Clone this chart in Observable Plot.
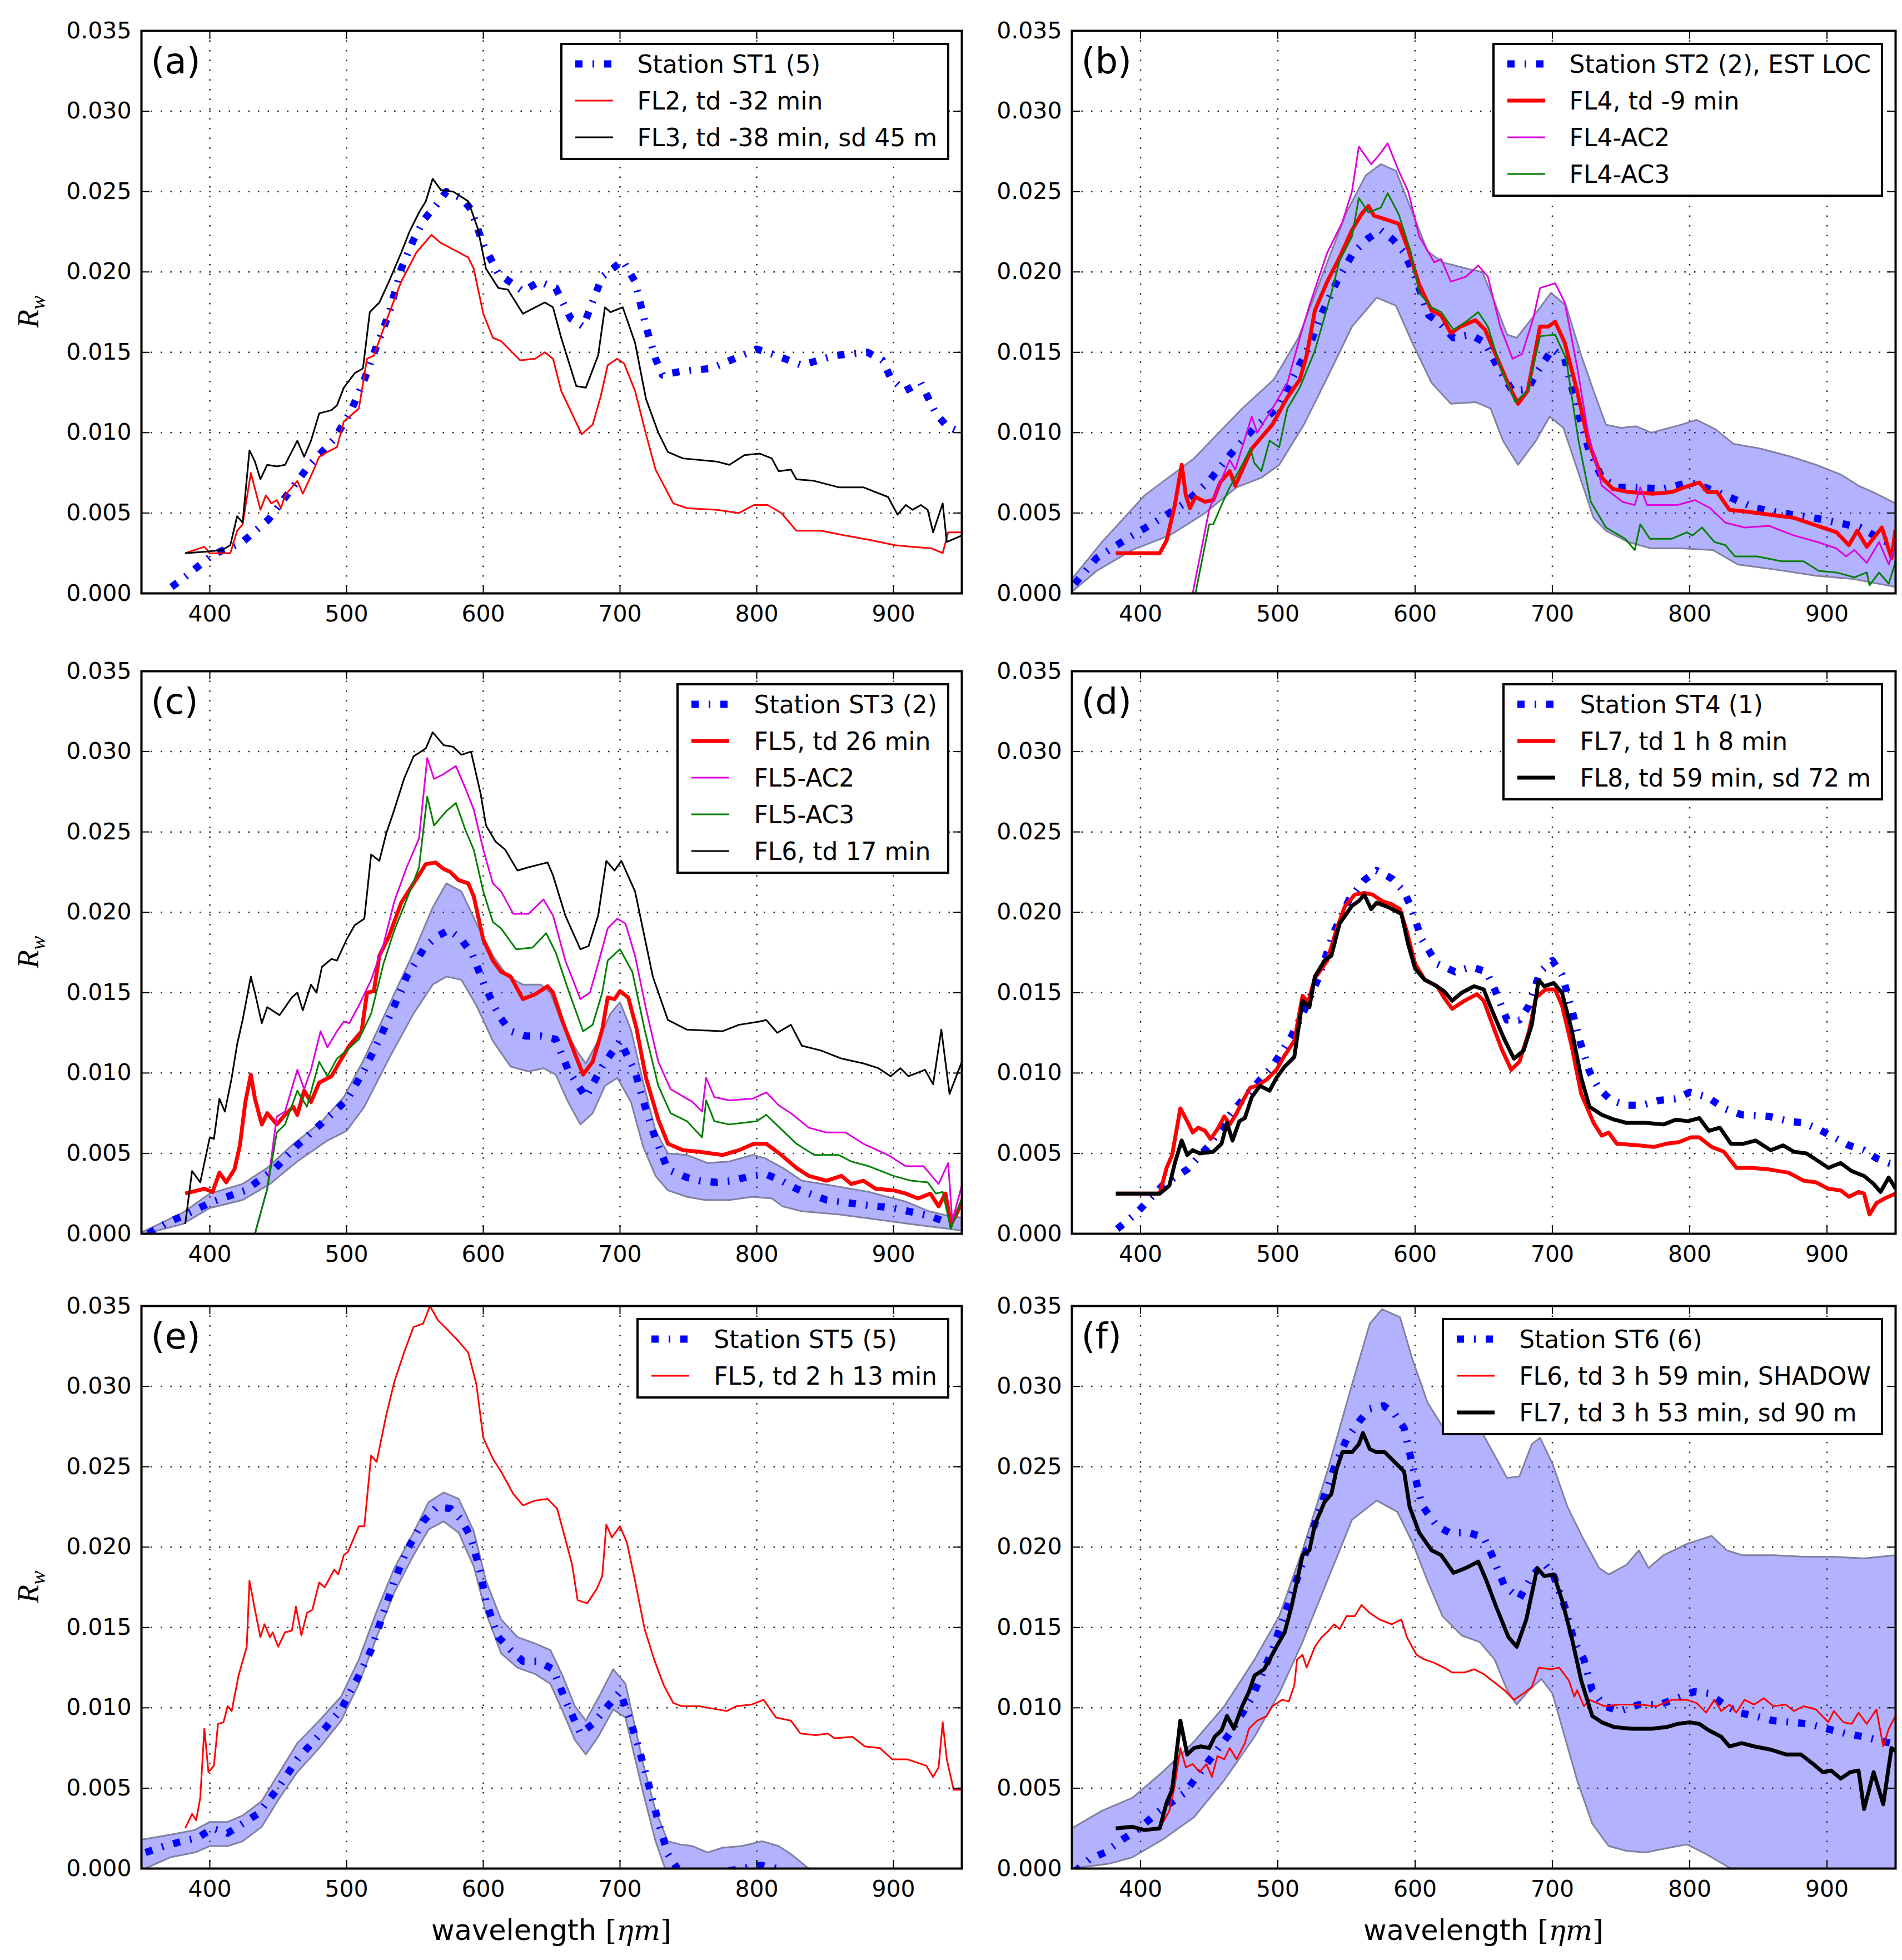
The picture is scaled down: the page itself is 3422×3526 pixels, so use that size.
<!DOCTYPE html>
<html>
<head>
<meta charset="utf-8">
<script src="https://cdn.jsdelivr.net/npm/d3@7"></script>
<script src="https://cdn.jsdelivr.net/npm/@observablehq/plot@0.6"></script>
<style>
  body { margin: 0; background: #fff; }
  #page { position: relative; width: 3422px; height: 3526px; font-family: "DejaVu Sans"; overflow: hidden; }
  .chart { position: absolute; }
  .legend { position: absolute; background: #fff; border: 4px solid #000; padding: 11px 18px 14px 23px; font-size: 44px; }
  .legend .row { display: flex; align-items: center; height: 46px; margin-bottom: 20px; white-space: nowrap; }
  .legend .row:last-child { margin-bottom: 0; }
  .legend .row svg { margin-right: 44px; flex: none; }
  .xlab { position: absolute; transform: translate(-50%, -50%); font-size: 51px; white-space: nowrap; }
  .xlab .m { font-family: "DejaVu Serif"; }
  .ylab { position: absolute; transform: translate(-50%, -50%) rotate(-90deg); font-family: "Liberation Serif"; font-style: italic; font-size: 54px; }
</style>
</head>
<body>
<div id="page"></div>
<script>
// wavelength [nm], Rw in units of 1e-3
const xTicks = [400, 500, 600, 700, 800, 900];
const yTicks = [0, 0.005, 0.01, 0.015, 0.02, 0.025, 0.03, 0.035];

// (a)
const a_st1 = [[372,0.4],[383,1.1],[402,2.4],[424,3.2],[443,4.6],[473,8.0],[491,9.6],[503,11.3],[513,13.3],[522,15.4],[531,17.4],[540,20.2],[549,22.0],[557,23.3],[566,24.2],[573,25.0],[584,24.6],[591,23.9],[600,21.7],[611,19.9],[629,18.8],[641,19.4],[653,19.0],[664,17.1],[673,16.6],[687,19.7],[702,20.7],[711,19.4],[719,16.6],[726,14.6],[731,13.6],[744,13.8],[767,14.0],[789,14.8],[800,15.2],[811,14.9],[833,14.2],[857,14.8],[881,15.0],[892,14.5],[898,13.4],[908,12.6],[920,13.1],[931,11.2],[939,10.4],[950,10.0]];
const a_fl2 = [[382,2.5],[396,2.9],[400,2.5],[415,2.5],[420,3.9],[424,4.3],[430,7.5],[437,5.2],[441,6.1],[445,5.6],[449,5.8],[452,5.3],[455,6.1],[464,7.0],[468,6.2],[475,7.5],[480,8.5],[486,8.8],[493,9.1],[498,10.7],[509,11.5],[515,14.6],[520,14.8],[531,17.4],[540,19.4],[551,21.2],[562,22.3],[569,21.8],[578,21.4],[589,20.9],[593,20.2],[600,17.4],[607,15.9],[613,15.7],[627,14.5],[638,14.6],[645,15.0],[651,14.6],[657,12.6],[672,9.9],[680,10.5],[686,12.3],[691,14.2],[698,14.6],[703,14.3],[711,12.6],[719,9.9],[726,7.7],[739,5.6],[749,5.3],[771,5.2],[787,5.0],[798,5.5],[808,5.5],[818,5.0],[829,3.9],[847,3.9],[865,3.6],[884,3.3],[901,3.0],[914,2.9],[928,2.8],[936,2.5],[940,3.8],[950,3.8]];
const a_fl3 = [[382,2.5],[398,2.6],[409,2.7],[415,3.0],[420,4.8],[424,4.4],[429,8.9],[433,8.2],[437,7.1],[442,8.0],[449,7.9],[455,8.0],[464,9.5],[469,8.5],[474,9.5],[480,11.2],[489,11.4],[493,11.7],[498,12.8],[506,13.7],[512,14.0],[517,17.5],[524,18.1],[531,19.4],[540,21.2],[546,22.5],[553,23.7],[558,24.4],[563,25.8],[569,25.1],[578,25.0],[589,24.4],[596,22.7],[602,20.2],[611,19.0],[618,18.9],[629,17.4],[638,17.8],[645,18.1],[651,17.8],[657,15.9],[668,12.9],[675,12.8],[684,14.8],[689,17.8],[693,17.5],[702,17.8],[711,15.6],[719,12.1],[728,10.0],[735,8.8],[746,8.4],[771,8.2],[780,8.0],[791,8.6],[802,8.7],[811,8.4],[816,7.6],[825,7.7],[829,7.1],[842,7.0],[860,6.6],[878,6.6],[887,6.3],[896,6.0],[903,4.9],[909,5.5],[914,5.2],[920,5.5],[925,5.2],[929,3.8],[936,5.6],[939,3.2],[950,3.6]];

// (b)
const b_upper = [[350,0.9],[372,3.2],[403,6.1],[439,8.4],[474,11.5],[497,13.3],[515,15.9],[532,19.7],[550,23.7],[564,26.0],[575,26.7],[586,26.3],[598,23.7],[609,21.3],[620,20.6],[638,20.2],[649,20.0],[658,18.1],[667,16.1],[674,15.9],[685,17.1],[699,18.7],[710,17.9],[721,14.8],[730,12.6],[739,10.5],[750,10.3],[761,10.4],[772,10.0],[794,10.5],[805,10.8],[819,10.2],[832,9.3],[852,9.0],[874,8.5],[892,8.0],[910,7.4],[923,6.7],[936,6.2],[950,5.6]];
const b_lower = [[350,0.1],[368,1.4],[394,2.7],[421,3.6],[447,5.0],[470,6.6],[488,7.2],[501,8.0],[519,10.5],[537,13.6],[554,16.6],[572,18.4],[586,17.9],[599,15.4],[612,13.1],[626,11.8],[644,11.9],[655,11.5],[664,9.5],[675,8.0],[688,9.5],[698,11.0],[708,10.3],[719,7.5],[730,4.7],[739,3.9],[755,3.2],[772,2.8],[794,2.8],[817,2.7],[835,1.8],[861,1.5],[892,1.1],[919,0.9],[950,0.4]];
const b_st2 = [[352,0.6],[368,2.2],[390,3.4],[410,4.4],[432,5.6],[450,7.0],[465,8.6],[483,10.3],[499,11.5],[512,13.6],[523,15.4],[532,17.4],[543,19.4],[555,21.2],[566,22.1],[575,22.6],[584,22.0],[592,21.2],[600,19.7],[610,17.3],[617,16.9],[628,15.9],[640,16.1],[651,15.6],[660,14.1],[671,12.6],[682,12.7],[689,13.8],[700,15.2],[709,14.6],[718,11.5],[726,9.1],[736,7.2],[747,6.6],[760,6.6],[780,6.5],[800,6.9],[811,6.6],[826,6.1],[848,5.3],[875,4.9],[897,4.6],[924,4.1],[941,3.3],[950,3.0]];
const b_fl4 = [[382,2.5],[414,2.5],[419,3.3],[425,5.5],[430,8.0],[433,6.1],[436,5.3],[440,6.0],[447,5.7],[453,5.8],[458,6.9],[465,7.6],[469,6.7],[481,9.0],[487,9.6],[496,10.5],[507,12.2],[516,13.3],[521,14.8],[527,17.6],[536,19.4],[545,20.9],[554,22.6],[561,23.6],[566,24.1],[570,23.5],[581,23.2],[588,23.0],[595,21.4],[603,19.2],[612,17.6],[619,17.3],[626,16.2],[633,16.6],[644,17.0],[651,16.4],[660,14.6],[669,12.8],[675,11.8],[682,12.6],[691,16.6],[697,16.6],[702,16.9],[709,15.6],[718,12.6],[726,9.5],[736,7.2],[744,6.5],[756,6.3],[773,6.2],[787,6.3],[796,6.6],[807,6.9],[813,6.3],[820,6.3],[829,5.2],[840,5.1],[858,4.9],[876,4.7],[893,4.2],[907,3.8],[916,3.0],[922,3.9],[929,2.9],[940,4.1],[947,2.2],[950,4.0]];
const b_ac2 = [[438,0],[450,5.2],[456,6.5],[465,8.3],[469,7.7],[481,11.0],[485,10.0],[496,11.5],[507,13.1],[516,15.9],[523,17.9],[536,21.2],[547,23.1],[554,25.0],[559,27.8],[568,26.7],[574,27.3],[580,28.0],[588,26.3],[595,25.0],[603,22.2],[614,20.6],[619,20.8],[626,19.4],[637,19.7],[646,20.4],[653,19.7],[662,16.6],[671,14.6],[678,14.9],[686,17.1],[691,19.0],[702,19.3],[709,18.1],[718,14.1],[726,10.0],[736,6.7],[751,5.7],[760,5.5],[764,6.6],[769,5.5],[791,5.5],[804,5.8],[815,5.3],[826,4.4],[840,4.1],[858,4.2],[876,3.6],[893,3.2],[907,2.8],[914,2.3],[920,2.7],[929,1.9],[938,3.2],[945,1.8],[950,3.0]];
const b_ac3 = [[440,0],[450,4.3],[453,4.3],[459,5.5],[465,6.6],[474,8.0],[480,9.0],[483,8.1],[488,7.6],[494,9.5],[501,9.1],[507,11.5],[516,12.8],[527,15.1],[539,18.7],[545,20.7],[554,22.2],[559,24.6],[566,23.7],[575,24.0],[580,24.9],[588,23.6],[597,21.2],[603,18.7],[612,17.8],[619,17.5],[628,16.4],[637,16.9],[646,17.5],[653,16.6],[662,14.1],[673,11.9],[682,12.6],[691,16.0],[702,16.1],[710,14.6],[719,9.5],[728,5.7],[739,4.1],[753,3.4],[760,2.7],[764,4.3],[771,3.4],[787,3.4],[798,3.8],[802,3.6],[809,4.1],[818,3.2],[826,3.0],[833,2.3],[849,2.3],[867,2.0],[883,2.0],[894,1.4],[907,1.3],[920,1.0],[929,1.3],[931,0.5],[938,1.3],[945,0.6],[950,2.0]];

// (c)
const c_upper = [[350,0.1],[353,0.2],[380,1.3],[400,2.5],[424,3.1],[442,4.1],[460,5.5],[482,7.0],[498,8.5],[513,10.9],[531,14.2],[549,17.5],[563,20.3],[573,21.8],[584,21.3],[595,19.3],[607,17.3],[618,16.0],[629,15.5],[642,15.5],[649,15.0],[658,13.0],[669,11.3],[675,10.6],[684,12.0],[693,13.7],[700,14.4],[708,12.7],[717,9.4],[726,6.4],[735,5.0],[749,4.9],[764,4.4],[780,4.5],[797,4.9],[806,4.7],[819,4.1],[833,3.3],[855,3.0],[882,2.6],[909,2.0],[926,1.4],[941,1.1],[950,1.0]];
const c_lower = [[350,0],[353,0],[380,0.6],[400,1.6],[424,2.1],[444,3.1],[464,4.5],[486,5.8],[500,6.4],[513,7.9],[531,10.9],[549,13.7],[563,15.5],[573,16.0],[584,15.8],[595,14.2],[607,12.0],[620,10.4],[633,10.1],[644,10.3],[653,9.9],[662,8.2],[671,6.8],[680,7.5],[689,9.2],[698,9.7],[708,8.2],[717,5.4],[726,3.6],[735,2.7],[749,2.3],[762,2.1],[780,2.1],[797,2.3],[811,2.2],[819,1.7],[833,1.4],[860,1.2],[887,0.9],[913,0.6],[941,0.3],[950,0.2]];
const c_st3 = [[355,0],[369,0.7],[380,1.1],[402,2.0],[426,2.7],[447,4.0],[464,5.5],[482,6.9],[500,8.3],[513,10.2],[524,12.1],[534,14.0],[544,16.0],[557,17.8],[566,18.5],[575,18.9],[584,18.3],[592,17.4],[601,15.4],[612,13.5],[620,12.6],[631,12.3],[642,12.3],[653,12.1],[662,10.2],[675,8.5],[687,10.4],[700,12.0],[711,10.1],[718,8.0],[726,5.9],[735,4.0],[749,3.5],[758,3.3],[771,3.2],[782,3.3],[796,3.6],[807,3.7],[818,3.3],[829,2.8],[851,2.1],[878,1.8],[900,1.6],[927,1.1],[942,0.6],[950,0.5]];
const c_fl5 = [[382,2.5],[396,2.8],[402,2.6],[407,3.8],[412,3.2],[418,4.0],[422,5.5],[426,8.2],[430,9.9],[433,8.4],[438,6.8],[442,7.5],[449,6.8],[455,7.4],[461,7.9],[464,7.4],[469,8.9],[474,8.2],[480,9.4],[489,9.8],[495,10.7],[502,11.7],[511,12.6],[515,15.0],[520,15.1],[524,17.3],[531,18.5],[540,20.6],[549,21.8],[558,23.0],[565,23.1],[571,22.7],[576,22.5],[582,22.0],[589,21.8],[593,21.0],[600,18.3],[607,17.0],[613,16.3],[620,16.0],[629,14.6],[638,14.9],[647,15.4],[651,15.0],[658,13.2],[667,11.2],[673,9.9],[680,10.7],[687,12.7],[691,14.7],[696,14.6],[700,15.1],[706,14.7],[712,12.8],[719,9.7],[728,7.1],[735,5.6],[746,5.2],[758,5.1],[775,4.9],[787,5.2],[798,5.6],[807,5.6],[818,4.9],[829,4.1],[838,3.6],[851,3.3],[862,3.6],[869,3.1],[878,3.3],[887,2.8],[900,2.7],[909,2.5],[918,2.2],[927,2.5],[933,1.7],[938,2.5],[942,0.6],[946,1.2],[950,2.0]];
const c_ac2 = [[382,0],[433,0],[442,2.8],[449,7.3],[455,7.6],[464,10.2],[469,9.0],[474,10.2],[481,12.6],[486,11.6],[493,12.6],[498,13.2],[502,13.1],[509,14.2],[518,15.8],[527,18.0],[535,20.7],[544,22.8],[553,24.6],[559,29.6],[564,28.3],[571,28.6],[580,29.1],[587,27.7],[593,26.4],[600,23.9],[607,21.8],[613,21.3],[622,19.9],[633,19.9],[644,20.8],[651,19.8],[660,17.0],[671,14.6],[678,15.0],[684,16.8],[691,19.0],[698,19.6],[704,19.3],[711,17.3],[719,14.0],[728,10.7],[737,9.0],[753,8.2],[760,7.6],[763,9.7],[769,8.5],[780,8.3],[797,8.4],[807,8.8],[816,8.0],[825,7.5],[838,6.6],[851,6.3],[865,6.3],[878,5.6],[896,4.9],[909,4.2],[922,4.2],[933,3.1],[940,4.4],[943,0.8],[950,3.0]];
const c_ac3 = [[382,0],[433,0],[442,2.8],[449,6.3],[455,6.8],[464,8.9],[471,7.9],[480,10.7],[486,9.8],[493,10.9],[500,11.4],[509,12.1],[518,13.7],[527,16.8],[535,18.9],[544,20.8],[553,22.8],[559,27.2],[564,25.4],[573,26.3],[580,26.8],[587,25.1],[593,23.9],[600,21.3],[607,19.4],[613,19.0],[624,17.7],[636,17.8],[646,18.7],[653,17.5],[662,15.2],[673,12.6],[680,13.0],[687,15.0],[691,17.0],[700,17.7],[709,16.3],[718,12.7],[728,9.2],[737,7.5],[749,7.0],[760,6.0],[763,8.3],[769,7.0],[780,6.8],[800,7.0],[807,7.4],[818,6.5],[829,5.6],[842,4.9],[860,4.9],[869,4.5],[882,4.2],[900,3.6],[913,3.3],[925,3.2],[931,2.5],[936,2.6],[942,0.3],[950,2.2]];
const c_fl6 = [[382,0.6],[387,3.9],[393,3.2],[400,6.0],[403,5.9],[407,8.4],[411,7.6],[416,9.7],[420,11.8],[424,13.3],[430,16.0],[433,15.0],[438,13.1],[442,14.1],[451,13.6],[460,14.7],[464,15.0],[468,13.9],[474,15.5],[478,15.0],[482,16.6],[489,17.1],[493,17.0],[500,18.3],[506,19.2],[513,19.6],[518,23.6],[524,23.2],[529,24.9],[535,26.4],[542,28.3],[549,29.7],[558,30.2],[563,31.2],[571,30.4],[578,30.3],[584,29.8],[591,30.0],[598,27.4],[602,25.4],[609,24.4],[616,23.9],[625,22.6],[633,22.8],[647,23.1],[651,22.3],[660,19.8],[671,17.7],[677,17.9],[684,19.8],[690,23.2],[696,22.6],[701,23.2],[711,21.3],[724,16.0],[735,13.3],[749,12.7],[775,12.6],[787,13.0],[802,13.2],[807,13.3],[815,12.5],[825,13.0],[833,11.7],[847,11.4],[862,10.9],[878,10.6],[889,10.3],[898,9.8],[905,10.3],[911,9.8],[923,10.2],[929,9.3],[935,12.7],[941,8.7],[950,10.7]];

// (d)
const d_st4 = [[383,0.3],[396,1.2],[416,3.0],[434,4.0],[450,5.5],[465,7.4],[481,9.0],[496,10.4],[510,12.3],[521,14.2],[530,16.0],[541,18.8],[552,20.8],[563,22.0],[572,22.6],[583,22.1],[592,21.3],[597,20.3],[605,18.3],[616,16.8],[629,16.3],[641,16.6],[652,16.3],[658,15.2],[667,13.3],[676,13.3],[683,14.2],[691,16.3],[700,17.0],[707,16.1],[714,14.0],[720,12.0],[727,10.1],[734,9.0],[743,8.3],[754,8.0],[765,8.0],[778,8.3],[790,8.4],[800,8.8],[813,8.5],[825,7.8],[838,7.4],[858,7.3],[872,7.0],[883,6.9],[894,6.5],[905,6.0],[916,5.5],[927,5.2],[936,4.7],[945,4.4],[950,4.3]];
const d_fl7 = [[382,2.5],[414,2.5],[419,4.1],[423,4.9],[429,7.8],[434,7.0],[438,6.3],[442,6.6],[447,6.4],[451,5.9],[456,6.5],[461,7.3],[465,6.8],[470,7.5],[474,8.2],[480,9.1],[485,9.2],[492,9.6],[499,10.2],[505,11.1],[512,12.0],[518,14.8],[522,14.4],[527,15.9],[536,17.0],[543,19.0],[549,20.4],[556,21.1],[563,21.2],[569,21.1],[576,20.7],[583,20.5],[589,20.2],[594,18.8],[600,16.8],[607,15.8],[616,15.4],[621,14.7],[627,14.0],[636,14.5],[645,14.9],[650,14.5],[656,13.1],[663,11.5],[670,10.2],[676,10.7],[683,12.6],[688,14.7],[695,15.2],[702,15.2],[707,14.2],[714,11.7],[721,8.7],[730,6.9],[736,6.1],[741,6.3],[747,5.6],[763,5.5],[774,5.4],[783,5.6],[792,5.7],[801,6.0],[807,6.0],[816,5.4],[825,5.1],[834,4.1],[845,4.1],[858,4.0],[872,3.8],[883,3.3],[892,3.2],[901,2.8],[910,2.7],[916,2.3],[923,2.6],[927,2.5],[931,1.2],[936,1.9],[942,2.2],[950,2.5]];
const d_fl8 = [[382,2.5],[414,2.5],[421,3.0],[425,4.4],[430,5.8],[434,4.9],[438,5.2],[443,5.0],[453,5.1],[459,5.6],[463,6.9],[467,5.8],[472,7.0],[476,7.2],[481,8.5],[487,9.2],[494,8.9],[499,9.7],[505,10.4],[512,11.0],[518,14.5],[523,14.1],[527,16.0],[534,17.0],[539,17.3],[545,19.3],[554,20.4],[559,20.7],[563,21.1],[568,20.2],[572,20.6],[581,20.3],[590,19.9],[595,18.0],[600,16.5],[607,15.8],[614,15.5],[621,15.1],[627,14.5],[634,15.0],[643,15.4],[650,15.2],[656,13.9],[665,12.1],[672,10.9],[679,11.4],[685,13.0],[690,15.8],[694,15.4],[701,15.6],[707,15.0],[714,12.7],[721,9.7],[727,7.9],[736,7.4],[745,7.1],[754,6.9],[768,6.9],[781,6.8],[790,7.1],[799,7.0],[807,7.2],[814,6.4],[822,6.6],[830,5.6],[839,5.6],[848,5.8],[859,5.2],[868,5.5],[876,5.1],[885,5.0],[894,4.5],[901,4.1],[910,4.4],[918,3.9],[927,3.6],[934,3.1],[939,2.6],[945,3.5],[950,2.8]];

// (e)
const e_upper = [[350,1.8],[371,2.1],[389,2.4],[400,2.9],[413,2.9],[424,3.3],[438,4.2],[451,6.0],[464,7.8],[480,9.2],[496,10.7],[509,13.0],[522,16.0],[535,18.7],[549,20.9],[560,22.8],[571,23.4],[582,23.0],[593,21.0],[602,17.9],[613,15.5],[625,14.4],[638,14.0],[649,13.6],[658,12.0],[667,10.1],[675,9.2],[684,10.6],[695,12.4],[704,11.5],[710,9.2],[717,6.5],[726,3.6],[735,1.7],[744,1.5],[753,1.4],[764,1.0],[775,1.3],[789,1.4],[804,1.7],[816,1.4],[825,0.9],[838,0],[860,-1.0],[950,-3.0]];
const e_lower = [[350,-0.1],[371,0.7],[389,1.0],[400,1.4],[413,1.4],[424,1.7],[438,2.6],[451,4.4],[464,6.0],[480,7.5],[496,9.2],[509,11.5],[522,14.4],[535,17.2],[549,19.5],[560,21.1],[571,21.6],[582,20.9],[593,18.8],[602,15.9],[613,13.4],[625,12.5],[638,12.1],[649,11.5],[658,9.8],[667,8.0],[675,7.1],[684,8.2],[695,9.9],[704,9.4],[710,7.2],[717,4.7],[726,1.7],[733,0],[760,-1.5],[950,-3.0]];
const e_st5 = [[353,1.0],[367,1.4],[380,1.7],[391,1.9],[402,2.5],[413,2.2],[424,2.8],[435,3.4],[449,4.9],[464,6.8],[480,8.3],[496,9.9],[509,12.0],[518,13.6],[527,15.9],[535,17.9],[544,19.8],[556,21.6],[566,22.5],[576,22.4],[584,21.7],[591,20.6],[598,18.4],[602,16.6],[611,14.4],[620,13.6],[629,12.9],[640,12.9],[651,12.4],[660,10.5],[671,8.4],[680,9.0],[687,9.7],[700,11.0],[708,9.1],[715,7.1],[722,4.9],[728,2.9],[735,0.9],[742,0],[760,-0.4],[790,0],[803,0.2],[815,0],[850,-1.0]];
const e_fl5 = [[382,2.5],[387,3.4],[390,3.0],[393,4.4],[396,8.7],[399,6.0],[403,6.4],[406,9.0],[410,9.1],[413,10.1],[416,9.8],[421,12.0],[427,13.8],[429,17.9],[433,16.1],[437,14.4],[440,15.2],[444,14.4],[446,14.7],[450,13.8],[455,14.7],[460,14.8],[463,16.3],[467,14.5],[471,15.9],[475,16.1],[480,17.8],[484,17.5],[491,18.6],[494,18.3],[498,19.5],[501,19.7],[509,21.3],[513,21.3],[518,25.7],[522,25.3],[529,28.2],[535,30.3],[542,32.1],[549,33.7],[556,33.9],[561,35.0],[567,34.1],[573,33.6],[582,32.8],[589,32.1],[595,30.1],[600,26.8],[607,25.5],[613,24.7],[622,23.3],[629,22.6],[638,22.9],[647,23.0],[654,22.4],[660,20.5],[665,18.9],[669,16.7],[676,16.5],[683,17.4],[687,18.2],[690,21.4],[694,20.6],[700,21.3],[705,20.3],[711,17.9],[718,14.9],[725,13.0],[732,11.4],[739,10.3],[745,10.1],[758,10.1],[778,9.8],[785,10.1],[796,10.2],[805,10.5],[814,9.4],[825,9.2],[832,8.4],[843,8.3],[852,8.4],[857,8.1],[870,8.2],[879,7.6],[890,7.5],[899,6.8],[910,6.8],[924,6.4],[929,5.7],[933,6.3],[936,9.1],[939,6.8],[944,4.9],[950,4.9]];

// (f)
const f_upper = [[350,2.5],[372,3.6],[394,4.4],[416,6.0],[439,7.9],[461,10.1],[483,13.0],[501,15.7],[518,19.8],[536,24.7],[554,30.1],[567,33.9],[576,34.8],[589,34.3],[598,31.7],[609,29.0],[620,27.5],[634,27.4],[647,27.4],[658,25.7],[667,24.3],[676,24.4],[685,26.4],[691,26.8],[700,25.2],[711,22.5],[722,20.6],[734,18.7],[741,18.3],[754,18.9],[763,19.8],[770,18.7],[781,19.5],[798,20.2],[816,20.7],[827,19.8],[838,19.5],[861,19.5],[883,19.4],[905,19.4],[927,19.3],[950,19.5]];
const f_lower = [[350,0],[377,0.3],[394,0.7],[416,1.8],[439,3.2],[461,5.5],[483,8.2],[501,10.9],[518,14.1],[536,17.9],[554,21.7],[572,22.9],[587,22.2],[598,20.3],[609,17.9],[620,15.7],[634,14.5],[647,14.1],[658,13.0],[667,11.1],[674,10.2],[683,11.1],[692,11.8],[700,10.9],[709,8.2],[718,5.5],[729,2.8],[741,1.4],[754,1.1],[768,1.0],[785,1.3],[798,1.5],[812,0.9],[830,0],[870,-1.5],[950,-3.0]];
const f_st6 = [[352,-0.2],[363,0.6],[374,1.0],[385,1.7],[399,2.5],[414,3.6],[432,4.7],[447,6.4],[465,8.4],[481,10.6],[496,13.6],[507,16.3],[518,19.0],[529,22.0],[541,24.9],[550,26.7],[559,27.8],[567,28.6],[577,28.8],[585,28.3],[592,27.4],[598,25.1],[605,22.6],[616,21.3],[625,20.9],[639,20.9],[650,20.6],[656,19.5],[665,17.6],[676,16.8],[685,18.2],[694,19.0],[701,18.2],[709,16.3],[716,14.1],[723,13.0],[729,11.1],[738,10.1],[749,9.8],[763,10.2],[778,10.2],[791,10.6],[803,11.0],[814,10.9],[825,10.2],[836,9.7],[847,9.5],[861,9.2],[874,9.1],[887,9.0],[900,8.7],[914,8.4],[927,8.2],[936,8.0],[947,7.8],[950,7.7]];
const f_fl6 = [[382,2.5],[394,2.6],[403,2.4],[414,2.5],[421,3.6],[425,5.2],[429,7.5],[433,6.3],[438,6.5],[443,6.0],[448,6.5],[452,5.7],[456,7.0],[461,6.8],[465,7.5],[470,6.8],[476,7.8],[479,8.7],[485,9.2],[492,9.5],[496,10.1],[503,10.5],[508,10.4],[512,11.4],[514,13.0],[518,13.3],[521,12.5],[527,13.8],[532,14.4],[537,14.8],[541,15.2],[545,14.9],[550,15.7],[556,15.7],[561,16.4],[567,15.9],[574,15.5],[583,15.2],[590,15.5],[594,14.4],[601,13.3],[607,13.0],[614,12.8],[621,12.5],[627,12.2],[636,12.2],[643,12.4],[650,12.1],[656,11.7],[665,11.1],[672,10.5],[679,10.9],[685,11.3],[690,12.5],[699,12.4],[705,12.5],[712,11.7],[716,10.7],[718,11.1],[723,10.1],[727,10.5],[738,10.1],[749,10.2],[763,10.2],[776,10.1],[787,10.5],[798,10.5],[805,10.3],[812,9.7],[818,10.5],[823,9.8],[829,10.2],[834,9.7],[840,10.5],[847,10.2],[854,10.6],[861,10.1],[870,10.2],[876,9.8],[883,10.1],[892,9.9],[901,9.1],[905,9.8],[912,9.1],[918,9.0],[923,9.7],[929,9.0],[936,9.9],[941,7.6],[945,8.7],[950,9.5]];
const f_fl7 = [[382,2.5],[394,2.6],[403,2.4],[414,2.5],[419,4.1],[423,4.9],[429,9.2],[434,7.1],[439,7.5],[444,7.6],[450,7.5],[454,8.2],[459,8.6],[463,9.5],[468,8.7],[474,10.1],[479,11.0],[483,12.0],[490,12.4],[494,13.0],[499,13.8],[505,14.7],[510,16.3],[514,17.9],[518,19.5],[523,19.8],[527,21.4],[534,22.8],[539,23.3],[543,24.9],[547,25.9],[554,25.9],[559,26.4],[562,27.1],[567,26.1],[572,25.9],[578,25.9],[585,25.3],[592,24.7],[596,22.5],[603,20.9],[612,19.8],[619,19.5],[628,18.4],[637,18.7],[646,19.1],[652,17.9],[659,16.3],[668,14.4],[674,13.8],[681,15.5],[689,18.7],[694,18.2],[701,18.3],[707,16.7],[714,14.4],[721,11.7],[729,9.5],[736,9.1],[745,8.8],[758,8.7],[772,8.7],[783,8.8],[791,9.0],[800,9.1],[807,9.0],[814,8.6],[823,8.2],[829,7.6],[838,7.8],[847,7.6],[859,7.4],[870,7.1],[881,7.1],[890,6.5],[897,6.0],[903,6.1],[910,5.6],[917,6.0],[923,6.1],[927,3.7],[934,6.0],[941,4.0],[947,7.5],[950,7.3]];

const legendA = ["Station ST1 (5)", "FL2, td -32 min", "FL3, td -38 min, sd 45 m"];
const legendB = ["Station ST2 (2), EST LOC", "FL4, td -9 min", "FL4-AC2", "FL4-AC3"];
const legendC = ["Station ST3 (2)", "FL5, td 26 min", "FL5-AC2", "FL5-AC3", "FL6, td 17 min"];
const legendD = ["Station ST4 (1)", "FL7, td 1 h 8 min", "FL8, td 59 min, sd 72 m"];
const legendE = ["Station ST5 (5)", "FL5, td 2 h 13 min"];
const legendF = ["Station ST6 (6)", "FL6, td 3 h 59 min, SHADOW", "FL7, td 3 h 53 min, sd 90 m"];

// line styles
const styles = {
  st: {stroke: "#0000ff", strokeWidth: 13, strokeDasharray: "13,18,3,18"},
  redThin: {stroke: "#ff0000", strokeWidth: 3},
  redThick: {stroke: "#ff0000", strokeWidth: 7},
  blackThin: {stroke: "#000000", strokeWidth: 3},
  blackThick: {stroke: "#000000", strokeWidth: 7},
  magenta: {stroke: "#dd00dd", strokeWidth: 3},
  green: {stroke: "#008000", strokeWidth: 3}
};

const panels = [
  {label: "(a)", col: 0, row: 0, band: null, legend: legendA,
   series: [[a_st1, "st"], [a_fl2, "redThin"], [a_fl3, "blackThin"]]},
  {label: "(b)", col: 1, row: 0, band: [b_upper, b_lower], legend: legendB,
   series: [[b_st2, "st"], [b_fl4, "redThick"], [b_ac2, "magenta"], [b_ac3, "green"]]},
  {label: "(c)", col: 0, row: 1, band: [c_upper, c_lower], legend: legendC,
   series: [[c_st3, "st"], [c_fl5, "redThick"], [c_ac2, "magenta"], [c_ac3, "green"], [c_fl6, "blackThin"]]},
  {label: "(d)", col: 1, row: 1, band: null, legend: legendD,
   series: [[d_st4, "st"], [d_fl7, "redThick"], [d_fl8, "blackThick"]]},
  {label: "(e)", col: 0, row: 2, band: [e_upper, e_lower], legend: legendE,
   series: [[e_st5, "st"], [e_fl5, "redThin"]]},
  {label: "(f)", col: 1, row: 2, band: [f_upper, f_lower], legend: legendF,
   series: [[f_st6, "st"], [f_fl6, "redThin"], [f_fl7, "blackThick"]]}
];

// layout
const cols = [
  {left: 0, width: 1760, ml: 254, mr: 30},
  {left: 1760, width: 1662, ml: 168, mr: 12}
];
const rowTop = [55, 1207, 2349];
const plotH = 1012, MT = 55, MB = 90, TICK = 15;

const page = document.getElementById("page");

panels.forEach(p => {
  const c = cols[p.col];
  const plotW = c.width - c.ml - c.mr;
  const ty = 0.035 * TICK / plotH, tx = 600 * TICK / plotW;
  const marks = [
    Plot.gridX(xTicks, {stroke: "#222", strokeOpacity: 1, strokeWidth: 2.5, strokeDasharray: "2.5,15"}),
    Plot.gridY(yTicks, {stroke: "#222", strokeOpacity: 1, strokeWidth: 2.5, strokeDasharray: "2.5,15"})
  ];
  if (p.band) {
    const poly = p.band[0].concat(p.band[1].slice().reverse());
    marks.push(Plot.line(poly, {x: d => d[0], y: d => d[1] / 1000, fill: "#0000ff", fillOpacity: 0.3,
      stroke: "#8080a0", strokeWidth: 3, clip: true}));
  }
  p.series.forEach(([data, s]) => {
    marks.push(Plot.line(data, {x: d => d[0], y: d => d[1] / 1000, ...styles[s],
      strokeLinejoin: "round", strokeLinecap: "butt", clip: true}));
  });
  marks.push(
    Plot.ruleX(xTicks, {x: d => d, y1: 0, y2: ty, strokeWidth: 2}),
    Plot.ruleX(xTicks, {x: d => d, y1: 0.035 - ty, y2: 0.035, strokeWidth: 2}),
    Plot.ruleY(yTicks, {y: d => d, x1: 350, x2: 350 + tx, strokeWidth: 2}),
    Plot.ruleY(yTicks, {y: d => d, x1: 950 - tx, x2: 950, strokeWidth: 2}),
    Plot.frame({stroke: "#000", strokeWidth: 4}),
    Plot.text([p.label], {text: d => d, frameAnchor: "top-left", dx: 17, dy: 31, lineAnchor: "top",
      textAnchor: "start", fontSize: 64})
  );

  const chart = Plot.plot({
    width: c.width,
    height: MT + plotH + MB,
    marginTop: MT,
    marginBottom: MB,
    marginLeft: c.ml,
    marginRight: c.mr,
    style: {fontFamily: "DejaVu Sans", fontSize: "41px", background: "transparent", overflow: "visible"},
    x: {domain: [350, 950], ticks: xTicks, tickSize: 0, tickPadding: 21, label: null},
    y: {domain: [0, 0.035], ticks: yTicks, tickFormat: d3.format(".3f"), tickSize: 0, tickPadding: 18, label: null},
    marks
  });

  const holder = document.createElement("div");
  holder.className = "chart";
  holder.style.left = c.left + "px";
  holder.style.top = (rowTop[p.row] - MT) + "px";
  holder.style.width = c.width + "px";
  holder.appendChild(chart);
  page.appendChild(holder);

  // legend box
  const plotRight = c.left + c.width - c.mr;
  const lg = d3.select(page).append("div").attr("class", "legend")
    .style("top", (rowTop[p.row] + 22) + "px")
    .style("right", (3422 - plotRight + 22) + "px");
  p.series.forEach(([, s], i) => {
    const st = styles[s];
    const row = lg.append("div").attr("class", "row");
    row.append("svg").attr("width", 68).attr("height", 46)
      .append("line").attr("x1", 0).attr("x2", 68).attr("y1", 23).attr("y2", 23)
      .attr("stroke", st.stroke).attr("stroke-width", st.strokeWidth)
      .attr("stroke-dasharray", st.strokeDasharray || null);
    row.append("span").text(p.legend[i]);
  });

  // axis titles
  if (p.col === 0) {
    d3.select(page).append("div").attr("class", "ylab")
      .style("left", "55px").style("top", (rowTop[p.row] + plotH / 2) + "px")
      .html("R<sub style='font-size:0.7em'>w</sub>");
  }
  if (p.row === 2) {
    d3.select(page).append("div").attr("class", "xlab")
      .style("left", (c.left + c.ml + plotW / 2) + "px").style("top", "3472px")
      .html("wavelength <span class='m'>[<i>ηm</i>]</span>");
  }
});
</script>
</body>
</html>
